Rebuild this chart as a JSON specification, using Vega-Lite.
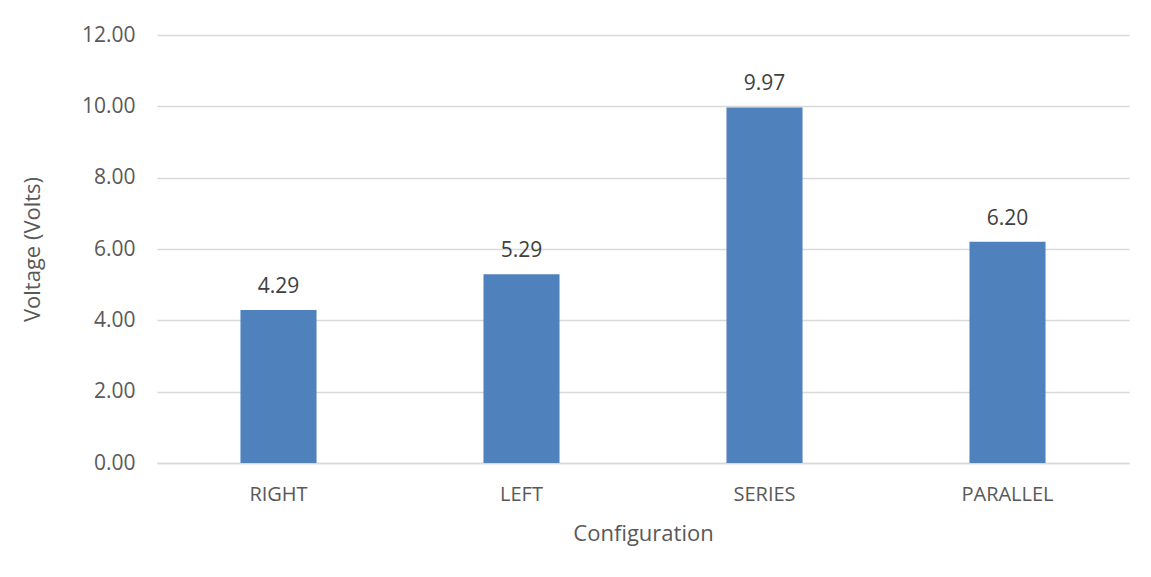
{
  "$schema": "https://vega.github.io/schema/vega-lite/v6.json",
  "autosize": "none",
  "width": 972,
  "height": 428,
  "padding": {"left": 157, "top": 35, "right": 22, "bottom": 114},
  "background": "white",
  "config": {
    "font": "Open Sans",
    "view": {"stroke": null}
  },
  "data": {
    "values": [
      {"Configuration": "RIGHT", "Voltage": 4.29},
      {"Configuration": "LEFT", "Voltage": 5.29},
      {"Configuration": "SERIES", "Voltage": 9.97},
      {"Configuration": "PARALLEL", "Voltage": 6.20}
    ]
  },
  "encoding": {
    "x": {
      "field": "Configuration",
      "type": "nominal",
      "sort": null,
      "scale": {"paddingInner": 0.687, "paddingOuter": 0.3435},
      "axis": {
        "title": "Configuration",
        "labelAngle": 0,
        "labelFontSize": 20,
        "labelColor": "#595959",
        "labelPadding": 21,
        "titleFontSize": 22,
        "titleFontWeight": "normal",
        "titleColor": "#595959",
        "titlePadding": 19,
        "ticks": false,
        "domainColor": "#d9d9d9",
        "domainWidth": 1.5
      }
    },
    "y": {
      "field": "Voltage",
      "type": "quantitative",
      "scale": {"domain": [0, 12], "nice": false},
      "axis": {
        "title": "Voltage (Volts)",
        "values": [0, 2, 4, 6, 8, 10, 12],
        "format": ".2f",
        "labelFontSize": 21,
        "labelColor": "#595959",
        "labelPadding": 22,
        "titleFontSize": 22,
        "titleFontWeight": "normal",
        "titleColor": "#595959",
        "titlePadding": 37,
        "ticks": false,
        "domain": false,
        "gridColor": "#d9d9d9",
        "gridWidth": 1.5
      }
    }
  },
  "layer": [
    {"mark": {"type": "bar", "color": "#4f81bd"}},
    {
      "mark": {"type": "text", "dy": -23, "fontSize": 21, "color": "#404040"},
      "encoding": {"text": {"field": "Voltage", "type": "quantitative", "format": ".2f"}}
    }
  ]
}
